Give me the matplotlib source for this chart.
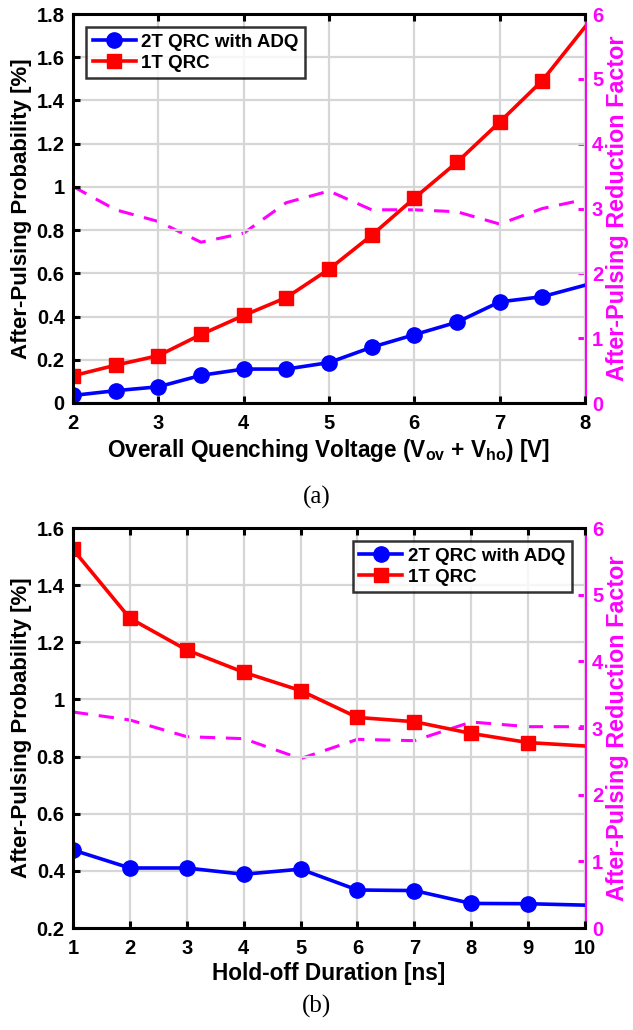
import matplotlib
matplotlib.use("Agg")
import matplotlib.pyplot as plt
import numpy as np

plt.rcParams['font.family'] = ['Liberation Sans', 'DejaVu Sans']
plt.rcParams['font.weight'] = 'bold'
plt.rcParams['mathtext.fontset'] = 'custom'
plt.rcParams['mathtext.bf'] = 'Liberation Sans:bold'
plt.rcParams['mathtext.rm'] = 'Liberation Sans:bold'

# ---- Data (a) ----
volt = [2, 2.5, 3, 3.5, 4, 4.5, 5, 5.5, 6, 6.5, 7, 7.5, 8]
a_2t = [0.035, 0.057, 0.075, 0.128, 0.157, 0.157, 0.187, 0.258, 0.316, 0.374, 0.468, 0.492, 0.545]
a_1t = [0.126, 0.175, 0.219, 0.317, 0.405, 0.488, 0.619, 0.776, 0.948, 1.114, 1.300, 1.492, 1.740]
a_rf = [3.34, 2.98, 2.80, 2.48, 2.62, 3.09, 3.27, 2.98, 2.98, 2.95, 2.76, 3.00, 3.14]

# ---- Data (b) ----
hold = [1, 2, 3, 4, 5, 6, 7, 8, 9, 10]
b_2t = [0.473, 0.410, 0.410, 0.388, 0.406, 0.333, 0.331, 0.286, 0.285, 0.280]
b_1t = [1.525, 1.284, 1.173, 1.095, 1.031, 0.937, 0.922, 0.881, 0.849, 0.837]
b_rf = [3.24, 3.12, 2.87, 2.84, 2.54, 2.83, 2.81, 3.09, 3.02, 3.02]

MAG = '#FF00FF'
W, H = 633, 1030
fig = plt.figure(figsize=(W / 100, H / 100), dpi=100)

def style(ax, ax2):
    for s in ['left', 'bottom', 'top']:
        ax.spines[s].set_linewidth(2.2)
        ax.spines[s].set_color('black')
    ax.spines['right'].set_visible(False)
    for s in ['left', 'bottom', 'top']:
        ax2.spines[s].set_visible(False)
    ax2.spines['right'].set_linewidth(2.2)
    ax2.spines['right'].set_color(MAG)
    ax.tick_params(axis='both', direction='in', length=5, width=2.2, labelsize=14.5,
                   top=True, pad=6)
    ax.tick_params(axis='x', pad=8)
    ax2.tick_params(axis='y', direction='in', length=5, width=2.2, labelsize=14.5,
                    colors=MAG, pad=5)
    ax.grid(True, color='#d6d6d6', lw=1.6)
    ax.set_axisbelow(True)
    for lab in ax.get_xticklabels() + ax.get_yticklabels() + ax2.get_yticklabels():
        lab.set_fontweight('bold')

def panel(rect, x, y2t, y1t, rf, xlim, ylim, yticks, xticks, xlabel, legloc, caption, capy):
    ax = fig.add_axes(rect)
    ax2 = ax.twinx()
    ax2.plot(x, rf, '--', color=MAG, lw=2.2, dashes=(5, 3.5), zorder=1)
    ax2.set_ylim(0, 6)
    ax2.set_yticks(range(0, 7))
    ax2.set_ylabel('After-Pulsing Reduction Factor', color=MAG, fontsize=16.8,
                   fontweight='bold', labelpad=2)
    ax.set_zorder(ax2.get_zorder() + 1)
    ax.patch.set_visible(False)
    ax.plot(x, y2t, '-o', color='#0000FF', lw=2.6, ms=11, markevery=slice(0, len(x) - 1),
            label='2T QRC with ADQ')
    ax.plot(x, y1t, '-s', color='#FF0000', lw=2.6, ms=10, markevery=slice(0, len(x) - 1),
            label='1T QRC')
    ax.set_xlim(*xlim)
    ax.set_ylim(*ylim)
    ax.set_xticks(xticks)
    ax.set_yticks(yticks)
    ax.set_yticklabels([('%g' % t) for t in yticks])
    ax.set_xlabel(xlabel, fontsize=16.3, fontweight='bold', labelpad=3)
    ax.set_ylabel('After-Pulsing Probability [%]', fontsize=16, fontweight='bold', labelpad=3)
    style(ax, ax2)
    leg = ax.legend(loc=legloc, fontsize=13.5, frameon=True, fancybox=False,
                    handlelength=2.3, borderpad=0.35, labelspacing=0.2, handletextpad=0.3,
                    borderaxespad=0.7)
    leg.get_frame().set_edgecolor('black')
    leg.get_frame().set_linewidth(1.8)
    for t in leg.get_texts():
        t.set_fontweight('bold')
    fig.text(0.5, capy, caption, ha='center', va='center', fontsize=18,
             family=['Liberation Serif', 'DejaVu Serif'], fontweight='normal')
    return ax, ax2

panel([73 / W, 1 - 403 / H, 512 / W, 389 / H], volt, a_2t, a_1t, a_rf,
      (2, 8), (0, 1.8), [0, 0.2, 0.4, 0.6, 0.8, 1, 1.2, 1.4, 1.6, 1.8], range(2, 9),
      r'Overall Quenching Voltage (V$_{\mathbf{ov}}$ + V$_{\mathbf{ho}}$) [V]',
      'upper left', '(a)', 1 - 497 / H)

panel([73 / W, 1 - 928 / H, 512 / W, 400 / H], hold, b_2t, b_1t, b_rf,
      (1, 10), (0.2, 1.6), [0.2, 0.4, 0.6, 0.8, 1, 1.2, 1.4, 1.6], range(1, 11),
      'Hold-off Duration [ns]', 'upper right', '(b)', 1 - 1006 / H)

fig.savefig('out.png', dpi=100)
